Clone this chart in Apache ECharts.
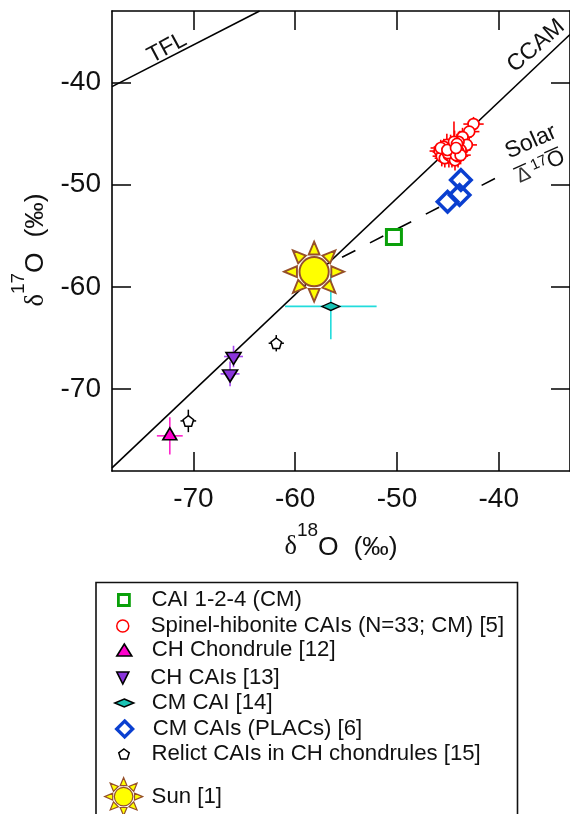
<!DOCTYPE html>
<html><head><meta charset="utf-8">
<style>html,body{margin:0;padding:0;background:#fff}#c{width:570px;height:814px}</style>
<script src="https://cdn.jsdelivr.net/npm/echarts@6/dist/echarts.min.js"></script>
</head><body><div id="c"></div>
<script>
const tickValues=[-70,-60,-50,-40];
const axisMin=-78, axisMax=-33;

const ccamX=[-78,-33], ccamY=[-77.7,-35.3];
const tflX=[-78,-63.5], tflY=[-40.4,-33];
const solarX=[-58.14,-40.2], solarY=[-58.5,-49.3];

const sunX=[-58.14], sunY=[-58.5];

const cai124X=[-50.3], cai124Y=[-55.1], cai124XE=[0], cai124YE=[0];

const spinelX=[-42.48,-42.9,-43.56,-43.14,-43.95,-44.34,-44.73,-44.54,-44.93,-45.2,-45.5,-45.8,-45.6,-45.3,-44.9,-44.6,-44.3,-44.0,-43.75,-45.1,-44.8,-44.4,-44.0,-45.4,-45.7,-45.0,-44.6,-44.2,-43.75,-45.05,-44.4,-44.1,-44.2];
const spinelY=[-44.06,-44.8,-45.33,-46.1,-45.8,-45.9,-46.1,-46.8,-46.4,-46.6,-46.8,-46.7,-47.2,-47.4,-47.1,-47.3,-47.6,-47.2,-46.6,-46.1,-46.7,-46.3,-46.7,-46.3,-46.4,-46.9,-46.5,-47.1,-47.1,-46.6,-45.8,-46.0,-46.4];
const spinelXE=[1.0,1.0,0.9,1.0,0.9,1.0,0.9,1.0,0.9,1.0,1.0,1.0,0.9,1.0,0.9,1.0,0.9,1.0,1.0,0.9,1.0,0.9,1.0,1.0,1.0,0.9,1.0,0.9,1.0,0.9,1.0,0.9,1.0];
const spinelYE=[0.7,0.8,0.9,0.8,1.0,1.2,1.0,1.1,0.9,1.0,0.8,0.9,1.0,0.9,1.2,1.0,1.0,1.1,0.9,1.1,0.9,1.0,0.9,0.8,0.8,1.0,0.9,1.0,0.9,0.9,2.0,1.0,1.1];

const chChondX=[-72.32], chChondY=[-74.56], chChondXE=[1.27], chChondYE=[1.83];
const chCaiX=[-66.06,-66.4], chCaiY=[-66.8,-68.5], chCaiXE=[0.93,0.93], chCaiYE=[1.05,1.2];
const cmCaiX=[-56.5], cmCaiY=[-61.9], cmCaiXE=[4.5], cmCaiYE=[3.2];
const placX=[-43.72,-43.85,-45.03], placY=[-49.54,-51.0,-51.66], placXE=[0,0,0], placYE=[0,0,0];
const relictX=[-61.86,-70.5], relictY=[-65.5,-73.1], relictXE=[0.75,0.77], relictYE=[0.8,1.1];

const FONT='"Liberation Sans", Arial, sans-serif';

function sunPath(){
  const c=30, tip=30, base=17.2, hw=5.4, r=14.6;
  let p='path://';
  for(let i=0;i<8;i++){
    const a=i*Math.PI/4, ux=Math.cos(a), uy=Math.sin(a), vx=-uy, vy=ux;
    const pt=(d,s)=>(c+ux*d+vx*s).toFixed(2)+' '+(c+uy*d+vy*s).toFixed(2);
    p+='M'+pt(tip,0)+'L'+pt(base,hw)+'L'+pt(base,-hw)+'Z';
  }
  p+='M'+(c-r)+' '+c+'A'+r+' '+r+' 0 1 1 '+(c+r)+' '+c+'A'+r+' '+r+' 0 1 1 '+(c-r)+' '+c+'Z';
  return p;
}
const SUN=sunPath();
const TRI_DOWN='path://M0 0H2L1 2Z';
const PENTA='path://M0 -1L.95 -.31L.59 .81L-.59 .81L-.95 -.31Z';

const pairs=(x,y)=>x.map((v,i)=>[v,y[i]]);
const quads=(x,y,xe,ye)=>x.map((v,i)=>[v,y[i],xe[i],ye[i]]);

function lineSeries(name,x,y,extra){
  return Object.assign({name,type:'line',data:pairs(x,y),symbol:'none',silent:true,z:2,
    lineStyle:{color:'#000',width:1.6}},extra||{});
}
function errSeries(name,x,y,xe,ye,color,width,z){
  return {name,type:'custom',z,silent:true,encode:{x:0,y:1},data:quads(x,y,xe,ye),
    renderItem(params,api){
      const vx=api.value(0),vy=api.value(1),ex=api.value(2),ey=api.value(3);
      const a=api.coord([vx-ex,vy]),b=api.coord([vx+ex,vy]),c=api.coord([vx,vy-ey]),d=api.coord([vx,vy+ey]);
      const style={stroke:color,lineWidth:width,fill:null};
      return {type:'group',children:[
        {type:'line',shape:{x1:a[0],y1:a[1],x2:b[0],y2:b[1]},style},
        {type:'line',shape:{x1:c[0],y1:c[1],x2:d[0],y2:d[1]},style}]};
    }};
}
function markSeries(name,x,y,symbol,size,fill,border,bw,z,offset){
  return {name,type:'scatter',data:pairs(x,y),symbol,symbolSize:size,symbolOffset:offset||[0,0],z,
    itemStyle:{color:fill,borderColor:border,borderWidth:bw,opacity:1},silent:true};
}

const N={cai:'CAI 1-2-4 (CM)',sp:'Spinel-hibonite CAIs (N=33; CM) [5]',chc:'CH Chondrule [12]',cha:'CH CAIs [13]',
  cm:'CM CAI [14]',pl:'CM CAIs (PLACs) [6]',re:'Relict CAIs in CH chondrules [15]',sun:'Sun [1]'};

const series=[
  lineSeries('TFL',tflX,tflY),
  lineSeries('CCAM',ccamX,ccamY),
  lineSeries('Solar',solarX,solarY,{lineStyle:{color:'#000',width:1.6,type:[15,16.4]}}),
  errSeries('e-cm',cmCaiX,cmCaiY,cmCaiXE,cmCaiYE,'#22dcdc',1.6,3),
  errSeries('e-chc',chChondX,chChondY,chChondXE,chChondYE,'#ff22cc',1.6,3),
  errSeries('e-cha',chCaiX,chCaiY,chCaiXE,chCaiYE,'#a648f0',1.6,3),
  errSeries('e-re',relictX,relictY,relictXE,relictYE,'#000',1.5,3),
  markSeries(N.cm,cmCaiX,cmCaiY,'diamond',[18,8],'#19c3b4','#000',1.5,5),
  markSeries(N.chc,chChondX,chChondY,'triangle',[14,12],'#ff00cc','#000',1.6,5,[0,-2]),
  markSeries(N.cha,chCaiX,chCaiY,TRI_DOWN,[15,12],'#8a35dc','#000',1.6,5,[0,2]),
  markSeries(N.re,relictX,relictY,PENTA,[10.5,10.5],'#fff','#000',1.5,5),
  errSeries('e-sp',spinelX,spinelY,spinelXE,spinelYE,'#ff0000',1.6,6),
  markSeries(N.sp,spinelX,spinelY,'circle',11,'#fff','#ff0000',1.7,7),
  markSeries(N.cai,cai124X,cai124Y,'rect',15,'#fff','#0aa00a',3,5),
  markSeries('plac-fill',placX,placY,'diamond',21,'#fff','#fff',0,4),
  markSeries(N.pl,placX,placY,'diamond',20.5,'rgba(255,255,255,0)','#0a3fd0',3.5,5),
  markSeries(N.sun,sunX,sunY,SUN,60,'#ffff00','#96502a',1.9,8)
];

const legendRows=[
  [N.cai,'rect',122.3,600,11,11,2.8,150],
  [N.sp,'circle',122.3,626,12,12,1.5,150],
  [N.chc,'triangle',123.3,650,15,12,1.6,151],
  [N.cha,TRI_DOWN,123.3,677.5,15,12,1.6,151],
  [N.cm,'diamond',123.3,703,19,8,1.5,151],
  [N.pl,'diamond',123.3,728.7,16,16,3.3,151],
  [N.re,PENTA,123.3,754,11,10,1.5,151],
  [N.sun,SUN,123.3,796,38,38,1.2,151]
];
const legends=legendRows.map(r=>{
  const [name,icon,cx,cy,w,h,bw,tx]=r;
  const H=Math.max(h,26), left=Math.round(cx-w/2);
  return {show:true,data:[{name,icon,itemStyle:name===N.pl?{color:'#fff'}:undefined}],left,top:Math.round(cy-H/2),orient:'horizontal',padding:0,selectedMode:false,
    itemWidth:w,itemHeight:h,itemStyle:{borderWidth:bw},
    textStyle:{fontFamily:FONT,fontSize:22.2,color:'#111',lineHeight:26,padding:[0,0,0,tx-(left+w+5)]}};
});

const nameRich={
  d:{fontFamily:'"Liberation Serif",serif',fontSize:26.5,color:'#111',verticalAlign:'bottom'},
  s:{fontFamily:FONT,fontSize:19,color:'#111',verticalAlign:'bottom',padding:[0,0,21,0]},
  o:{fontFamily:FONT,fontSize:26.5,color:'#111',verticalAlign:'bottom'}
};
const axisCommon={type:'value',min:axisMin,max:axisMax,splitLine:{show:false},
  axisLine:{show:true,onZero:false,lineStyle:{color:'#000',width:1.6}},
  axisTick:{show:true,inside:true,length:19,customValues:tickValues,lineStyle:{color:'#000',width:1.5}}};
const labelCommon={show:true,customValues:tickValues,fontFamily:FONT,fontSize:28,color:'#111'};

const option={
  animation:false,backgroundColor:'#fff',
  grid:{left:112,top:11,width:460,height:460,containLabel:false},
  xAxis:[
    Object.assign({},axisCommon,{position:'bottom',axisLabel:Object.assign({},labelCommon,{margin:14}),
      name:'{d|δ}{s|18}{o|O  (‰)}',nameLocation:'middle',nameGap:50,nameTextStyle:{rich:nameRich}}),
    Object.assign({},axisCommon,{position:'top',axisLabel:{show:false}})
  ],
  yAxis:[
    Object.assign({},axisCommon,{position:'left',axisLabel:Object.assign({},labelCommon,{margin:11}),
      name:'{d|δ}{s|17}{o|O  (‰)}',nameLocation:'middle',nameGap:55,nameRotate:90,nameTextStyle:{rich:nameRich,padding:[0,18,0,0]}}),
    Object.assign({},axisCommon,{position:'right',axisLabel:{show:false}})
  ],
  legend:legends,
  series,
  graphic:[
    {type:'rect',shape:{x:96,y:582.5,width:421.5,height:260},style:{fill:'#fff',stroke:'#111',lineWidth:1.6},z:-1,silent:true},
    {type:'text',x:167,y:48,rotation:0.49,style:{text:'TFL',font:'23px '+FONT,fill:'#111',align:'center',verticalAlign:'middle'},silent:true},
    {type:'text',x:536,y:46,rotation:0.72,style:{text:'CCAM',font:'23px '+FONT,fill:'#111',align:'center',verticalAlign:'middle'},silent:true},
    {type:'text',x:531,y:142,rotation:0.42,style:{text:'Solar',font:'23px '+FONT,fill:'#111',align:'center',verticalAlign:'middle'},silent:true},
    {type:'group',x:540,y:168,rotation:0.42,silent:true,children:[
      {type:'text',x:-18,y:0,style:{text:'Δ',font:'20px '+FONT,fill:'#333',align:'center',verticalAlign:'middle'}},
      {type:'text',x:1,y:-5,style:{text:'17',font:'15px '+FONT,fill:'#111',align:'center',verticalAlign:'middle'}},
      {type:'text',x:18,y:-1,style:{text:'O',font:'22px '+FONT,fill:'#111',align:'center',verticalAlign:'middle'}},
      {type:'line',shape:{x1:-25,y1:-10,x2:-11,y2:-10},style:{stroke:'#111',lineWidth:1.3}},
      {type:'line',shape:{x1:10,y1:-12,x2:25,y2:-12},style:{stroke:'#111',lineWidth:1.3}}
    ]}
  ]
};
const chart=echarts.init(document.getElementById('c'),null,{renderer:'canvas'});
chart.setOption(option);
</script></body></html>
